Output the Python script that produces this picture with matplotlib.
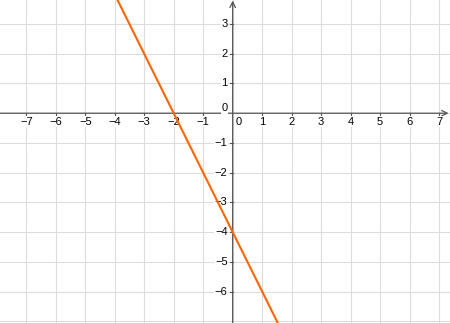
import matplotlib
matplotlib.use("Agg")
import matplotlib.pyplot as plt
import numpy as np

# line y = slope * x + intercept
slope = -2
intercept = -4
x_ticks = [-7, -6, -5, -4, -3, -2, -1, 1, 2, 3, 4, 5, 6, 7]
y_ticks = [-6, -5, -4, -3, -2, -1, 1, 2, 3]

xmin, xmax = -7.89, 7.37
ymin, ymax = -7.06, 3.81

plt.rcParams['font.family'] = ['Liberation Sans', 'DejaVu Sans']

fig = plt.figure(figsize=(4.5, 3.23), dpi=100)
ax = fig.add_axes([0, 0, 1, 1])
ax.set_xlim(xmin, xmax)
ax.set_ylim(ymin, ymax)
for s in ax.spines.values():
    s.set_visible(False)
ax.set_xticks([])
ax.set_yticks([])

grid_c = "#dddddd"
for gx in range(-7, 8):
    ax.axvline(gx, color=grid_c, lw=0.8, zorder=0)
for gy in range(-7, 4):
    ax.axhline(gy, color=grid_c, lw=0.8, zorder=0)

axis_c = "#555555"
ax.annotate("", xy=(xmax - 0.05, 0), xytext=(xmin, 0),
            arrowprops=dict(arrowstyle="->", color=axis_c, lw=0.9,
                            shrinkA=0, shrinkB=0), zorder=2)
ax.annotate("", xy=(0, ymax - 0.02), xytext=(0, ymin),
            arrowprops=dict(arrowstyle="->", color=axis_c, lw=0.9,
                            shrinkA=0, shrinkB=0), zorder=2)

box = dict(facecolor="white", edgecolor="none", pad=0.5)
for t in x_ticks:
    ax.plot([t, t], [0, -0.08], color=axis_c, lw=0.8, zorder=2)
    ax.text(t, -0.28, "\u2212%d" % -t if t < 0 else str(t), ha="center", va="center",
            fontsize=8, color="black", bbox=box, zorder=3)
for t in y_ticks:
    ax.plot([0, -0.08], [t, t], color=axis_c, lw=0.8, zorder=2)
    ax.text(-0.17, t, "\u2212%d" % -t if t < 0 else str(t), ha="right", va="center",
            fontsize=8, color="black", bbox=box, zorder=3)
ax.text(-0.17, 0.17, "0", ha="right", va="center", fontsize=8, bbox=box, zorder=3)
ax.text(0.1, -0.3, "0", ha="left", va="center", fontsize=8, bbox=box, zorder=3)

xs = np.array([xmin, xmax])
ax.plot(xs, slope * xs + intercept, color="#ff6600", lw=1.5, zorder=4)

fig.savefig("out.png", dpi=100)
